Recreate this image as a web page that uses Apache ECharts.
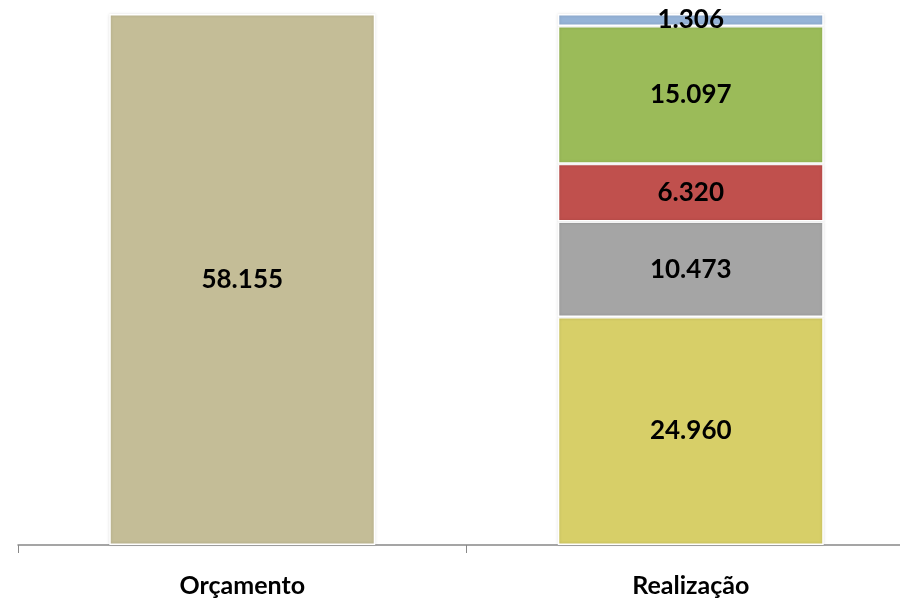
<!DOCTYPE html>
<html>
<head>
<meta charset="utf-8">
<script src="https://cdn.jsdelivr.net/npm/echarts@6/dist/echarts.min.js"></script>
<style>
  html, body { margin: 0; padding: 0; background: #fff; }
  #chart { width: 900px; height: 603px; }
</style>
</head>
<body>
<div id="chart"></div>
<script>
// Categorias do eixo X
const categorias = ["Orçamento", "Realização"];

// Valores por série (empilhadas)
const orcamento = [58.155, null];
const parte1 = [null, 24.960];
const parte2 = [null, 10.473];
const parte3 = [null, 6.320];
const parte4 = [null, 15.097];
const parte5 = [null, 1.306];

const cores = ["#C4BD97", "#D7CF68", "#A5A5A5", "#C0504D", "#9BBB59", "#95B3D7"];

// Formato pt-BR: 58.155
const fmt = (v) => v.toFixed(3);

const chart = echarts.init(document.getElementById("chart"));

const makeSerie = (data, cor) => ({
  type: "bar",
  stack: "total",
  data: data,
  barWidth: "59.3%",
  itemStyle: {
    color: cor,
    borderColor: "#ffffff",
    borderWidth: 1.5,
    shadowColor: "rgba(0,0,0,0.15)",
    shadowBlur: 3,
  },
  label: {
    show: true,
    position: "inside",
    formatter: (p) => fmt(p.value),
    color: "#000",
    fontFamily: "Lato",
    fontWeight: "bold",
    fontSize: 26,
  },
});

const option = {
  animation: false,
  grid: {
    left: 18,
    width: 897,
    top: 14,
    bottom: 58,
    outerBoundsMode: "none",
    containLabel: false,
  },
  xAxis: {
    type: "category",
    data: categorias,
    axisLine: { lineStyle: { color: "#888", width: 1.5 } },
    axisTick: { show: true, length: 8, lineStyle: { color: "#888" } },
    axisLabel: {
      margin: 28,
      color: "#000",
      fontFamily: "Lato",
      fontWeight: "bold",
      fontSize: 25,
    },
  },
  yAxis: {
    type: "value",
    min: 0,
    max: 58.156,
    show: false,
    splitLine: { show: false },
  },
  series: [
    makeSerie(orcamento, cores[0]),
    makeSerie(parte1, cores[1]),
    makeSerie(parte2, cores[2]),
    makeSerie(parte3, cores[3]),
    makeSerie(parte4, cores[4]),
    makeSerie(parte5, cores[5]),
  ],
};

chart.setOption(option);
</script>
</body>
</html>
